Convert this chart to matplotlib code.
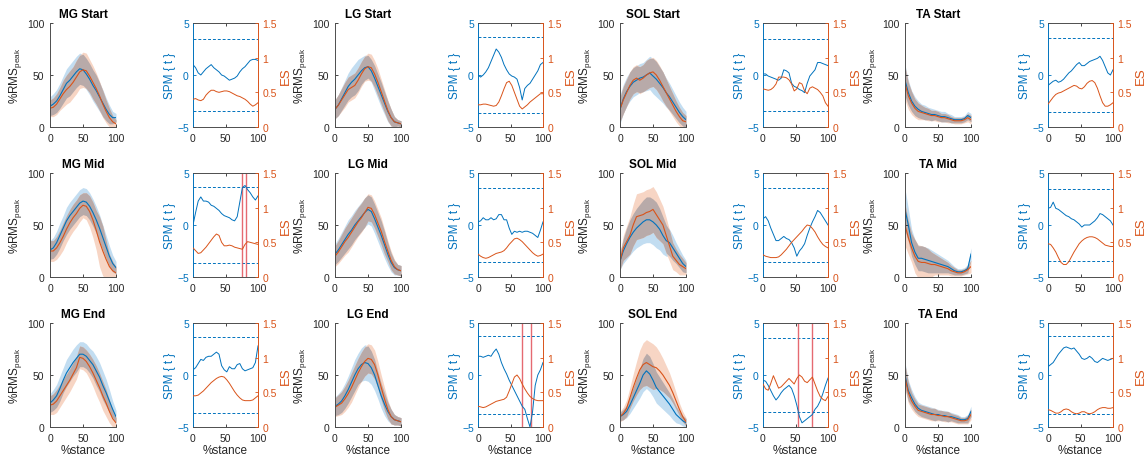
import numpy as np
import matplotlib
matplotlib.use("Agg")
import matplotlib.pyplot as plt

plt.rcParams['font.family'] = ['Liberation Sans', 'DejaVu Sans']
plt.rcParams['mathtext.fontset'] = 'custom'
plt.rcParams['mathtext.rm'] = 'Liberation Sans'
plt.rcParams['mathtext.it'] = 'Liberation Sans:italic'

# ---------------- data ----------------
STANCE = list(range(0, 101, 5))
SPM_STANCE = list(range(0, 101, 4))
MUSCLES = ["MG", "LG", "SOL", "TA"]
PHASES = ["Start", "Mid", "End"]

# EMG means / SDs (blue group A, orange group B), %RMS peak
MG_START_A = [20,22,25,30,36,42,45,49,53,56,55,51,46,40,35,29,23,17,12,9,9]
MG_START_B = [18,19,22,27,32,36,39,43,48,53,55,54,49,43,37,30,22,15,9,5,3]
MG_START_A_SD = [9,10,11,12,13,14,15,15,15,15,15,15,15,15,15,14,13,11,9,6,4]
MG_START_B_SD = [8,9,10,11,13,14,15,15,16,16,17,17,16,16,15,14,13,11,9,6,4]

LG_START_A = [17,21,27,33,39,43,46,50,54,57,58,54,47,39,31,23,15,9,5,4,3]
LG_START_B = [17,21,26,31,36,38,40,45,51,56,58,57,51,43,34,25,16,9,5,4,3]
LG_START_A_SD = [9,10,11,12,13,14,15,15,13,12,11,11,12,12,12,11,10,8,5,3,3]
LG_START_B_SD = [9,10,11,12,12,12,12,12,12,12,13,13,13,13,12,11,10,8,5,3,3]

SOL_START_A = [17,27,34,39,43,45,47,48,50,52,49,46,42,38,33,29,24,19,14,10,7]
SOL_START_B = [17,26,33,40,45,47,45,47,50,52,53,50,45,39,33,27,21,15,10,6,5]
SOL_START_A_SD = [14,14,14,14,14,14,14,14,15,16,17,17,16,15,14,13,12,11,10,9,8]
SOL_START_B_SD = [12,13,13,13,13,13,13,13,14,14,14,14,14,14,13,12,11,10,9,8,6]

TA_START_A = [45,33,25,20,17,15,14,13,12,12,11,10,10,9,8,7,7,7,8,11,9]
TA_START_B = [42,30,23,18,15,14,13,12,11,11,10,9,9,8,7,6,6,6,7,9,7]
TA_START_A_SD = [15,12,10,9,8,7,7,6,6,5,5,5,5,4,4,3,3,3,3,4,4]
TA_START_B_SD = [16,13,11,9,8,7,6,6,5,5,5,4,4,4,3,3,3,3,3,4,4]

MG_MID_A = [26,28,33,40,47,54,59,63,67,71,73,72,68,62,55,47,38,29,20,13,9]
MG_MID_B = [25,25,28,33,39,46,52,57,61,66,69,68,63,55,45,34,25,17,10,6,4]
MG_MID_A_SD = [9,10,11,12,12,13,13,13,13,13,13,13,13,13,13,13,12,11,10,8,6]
MG_MID_B_SD = [10,10,11,12,13,13,13,13,13,13,12,13,15,17,19,24,24,18,12,9,6]

LG_MID_A = [22,26,31,36,41,45,50,54,58,62,65,63,56,48,40,31,22,14,9,7,6]
LG_MID_B = [20,24,29,34,38,43,48,53,57,62,67,66,60,52,44,34,25,16,10,7,6]
LG_MID_A_SD = [10,11,12,13,14,14,14,14,14,14,14,14,14,14,14,13,11,9,7,5,5]
LG_MID_B_SD = [10,11,12,13,14,14,14,14,14,14,13,13,13,13,13,12,10,9,7,5,5]

SOL_MID_A = [15,25,32,38,43,47,50,53,55,55,53,50,46,40,35,33,28,23,18,13,10]
SOL_MID_B = [15,28,34,40,50,58,59,60,62,63,65,60,55,50,40,30,20,16,12,10,8]
SOL_MID_A_SD = [8,12,15,17,18,19,20,21,22,22,22,22,20,18,15,13,12,10,9,8,6]
SOL_MID_B_SD = [8,12,15,18,20,22,22,22,22,22,22,22,20,18,17,15,13,11,10,8,6]

TA_MID_A = [65,50,33,24,18,18,17,16,15,14,13,12,11,10,8,6,5,5,6,8,22]
TA_MID_B = [50,38,28,20,15,14,14,13,12,12,11,10,9,8,6,5,4,4,5,7,10]
TA_MID_A_SD = [20,16,13,12,12,12,12,12,11,10,9,8,7,6,5,4,3,3,3,4,6]
TA_MID_B_SD = [20,16,14,16,16,16,15,14,12,10,9,8,7,6,5,4,3,3,3,4,6]

MG_END_A = [23,26,30,37,45,52,57,62,66,70,70,68,64,60,54,48,40,33,25,17,10]
MG_END_B = [21,22,25,30,35,40,45,51,57,67,66,63,58,52,45,38,30,23,15,8,4]
MG_END_A_SD = [9,10,11,12,12,13,13,13,13,12,12,12,12,13,14,14,14,13,11,8,6]
MG_END_B_SD = [9,10,11,11,11,11,11,11,11,11,11,11,12,13,14,14,14,13,11,8,5]

LG_END_A = [20,22,25,30,36,43,50,56,60,62,61,57,50,40,30,22,15,10,7,6,5]
LG_END_B = [19,21,23,27,32,38,45,52,58,63,66,65,60,50,38,27,17,10,7,6,5]
LG_END_A_SD = [9,10,11,12,13,14,15,15,16,17,17,16,15,13,12,11,9,7,5,4,4]
LG_END_B_SD = [9,10,11,12,13,14,14,14,14,14,14,14,14,13,12,11,9,7,5,4,4]

SOL_END_A = [10,12,15,21,28,35,42,50,54,51,45,38,34,30,26,22,17,12,9,6,4]
SOL_END_B = [10,13,18,28,38,47,55,60,62,60,58,57,54,50,45,40,33,25,17,10,5]
SOL_END_A_SD = [4,5,6,8,10,12,14,16,17,17,16,15,14,13,12,11,10,8,6,5,4]
SOL_END_B_SD = [5,6,8,10,13,16,19,21,22,22,22,20,18,16,14,12,10,8,6,5,4]

TA_END_A = [50,35,28,22,18,16,15,14,13,12,12,11,11,10,10,9,8,7,7,8,15]
TA_END_B = [48,33,25,20,16,15,14,13,12,12,11,11,10,10,9,8,7,6,6,7,12]
TA_END_A_SD = [12,10,8,7,6,6,6,6,6,6,5,5,5,5,4,4,4,3,3,4,5]
TA_END_B_SD = [12,10,8,7,6,6,6,6,6,6,5,5,5,5,4,4,4,3,3,4,5]

# SPM{t} and effect size (ES) curves
MG_START_T = [1.0,0.7,0.2,0.0,0.3,0.6,0.8,1.0,0.7,0.5,0.3,0.0,-0.1,-0.3,-0.5,-0.4,-0.3,-0.1,0.3,0.6,0.8,1.1,1.4,1.5,1.5,1.4]
MG_START_ES = [0.40,0.41,0.39,0.38,0.40,0.46,0.50,0.53,0.53,0.51,0.50,0.51,0.52,0.52,0.51,0.49,0.47,0.45,0.44,0.42,0.40,0.37,0.33,0.30,0.32,0.35]
LG_START_T = [0.0,-0.2,0.0,0.3,0.7,1.3,1.9,2.5,2.2,1.7,1.0,0.5,0.1,-0.1,-0.2,-0.4,-1.2,-2.4,-1.3,-1.0,-0.8,-0.4,0.0,0.4,1.0,1.2]
LG_START_ES = [0.32,0.32,0.33,0.33,0.32,0.31,0.30,0.31,0.36,0.45,0.55,0.64,0.66,0.60,0.50,0.40,0.30,0.26,0.29,0.32,0.36,0.39,0.42,0.45,0.48,0.48]
SOL_START_T = [0.1,0.1,-0.1,-0.2,-0.3,-0.4,-0.5,-0.3,0.5,0.4,0.2,-0.8,-1.1,-1.2,-1.4,-1.5,-1.7,-0.8,-0.1,0.2,0.5,1.2,1.2,1.1,1.0,0.9]
SOL_START_ES = [0.55,0.54,0.53,0.54,0.57,0.62,0.72,0.72,0.72,0.71,0.68,0.62,0.52,0.55,0.64,0.62,0.52,0.48,0.56,0.58,0.56,0.54,0.50,0.45,0.35,0.30]
TA_START_T = [-1.0,-0.8,-0.6,-0.5,-0.7,-0.6,-0.4,-0.1,0.2,0.4,0.7,1.0,1.2,0.9,0.9,1.1,1.3,1.4,1.5,1.6,1.8,1.4,0.8,0.2,0.0,0.5]
TA_START_ES = [0.33,0.38,0.43,0.47,0.49,0.50,0.52,0.54,0.56,0.58,0.60,0.59,0.56,0.55,0.58,0.63,0.66,0.67,0.64,0.56,0.45,0.35,0.30,0.30,0.32,0.35]

MG_MID_T = [0.0,1.2,2.3,2.7,2.3,2.3,2.2,1.9,1.8,1.6,1.4,1.1,0.9,0.8,0.7,0.5,0.4,0.8,2.2,3.6,3.8,3.4,3.1,2.7,2.4,2.8]
MG_MID_ES = [0.42,0.38,0.34,0.35,0.39,0.43,0.48,0.53,0.58,0.62,0.60,0.50,0.45,0.45,0.46,0.45,0.43,0.42,0.41,0.40,0.47,0.51,0.50,0.49,0.48,0.47]
LG_MID_T = [0.3,0.4,0.7,0.5,0.5,0.7,0.5,0.6,1.0,1.0,0.5,0.5,-0.3,-0.9,-0.6,-0.7,-0.6,-0.7,-0.6,-0.6,-0.7,-0.8,-1.0,-1.2,-0.5,0.3]
LG_MID_ES = [0.33,0.30,0.28,0.27,0.28,0.30,0.32,0.34,0.35,0.36,0.38,0.42,0.47,0.51,0.55,0.56,0.54,0.51,0.47,0.43,0.39,0.35,0.32,0.30,0.31,0.33]
SOL_MID_T = [0.6,0.8,0.4,-0.3,-0.9,-1.5,-1.5,-1.3,-1.1,-1.3,-1.4,-1.7,-2.2,-3.0,-2.5,-2.2,-1.8,-1.0,-0.3,0.3,0.8,1.4,1.2,0.8,0.4,0.0]
SOL_MID_ES = [0.32,0.30,0.29,0.28,0.28,0.28,0.29,0.32,0.36,0.40,0.45,0.50,0.54,0.58,0.62,0.66,0.71,0.75,0.74,0.70,0.65,0.58,0.52,0.47,0.44,0.42]
TA_MID_T = [1.6,1.7,2.2,1.6,1.5,1.3,1.1,0.9,0.8,0.6,0.5,0.3,0.1,-0.2,0.0,0.0,0.0,0.2,0.4,0.7,1.1,1.0,0.8,0.6,0.4,0.0]
TA_MID_ES = [0.48,0.47,0.42,0.36,0.28,0.21,0.18,0.18,0.22,0.29,0.36,0.42,0.48,0.52,0.55,0.57,0.58,0.58,0.57,0.55,0.52,0.49,0.46,0.45,0.44,0.44]

MG_END_T = [0.5,0.7,1.1,1.5,1.4,1.7,1.8,1.8,2.0,2.2,2.0,0.9,0.5,0.3,0.8,0.6,0.6,1.0,1.1,0.6,0.4,0.5,0.6,0.7,1.2,2.8]
MG_END_ES = [0.45,0.45,0.46,0.49,0.52,0.56,0.60,0.64,0.67,0.70,0.72,0.73,0.72,0.68,0.63,0.57,0.51,0.46,0.42,0.39,0.38,0.38,0.38,0.39,0.42,0.45]
LG_END_T = [1.8,1.8,1.7,1.8,1.9,1.8,2.2,2.5,2.0,1.2,0.6,0.1,-0.5,-1.0,-1.5,-2.0,-2.5,-3.0,-3.3,-4.2,-5.0,-3.5,-1.0,0.0,0.5,1.2]
LG_END_ES = [0.30,0.29,0.28,0.29,0.31,0.33,0.35,0.37,0.38,0.39,0.40,0.43,0.52,0.62,0.72,0.75,0.70,0.62,0.55,0.49,0.44,0.41,0.39,0.38,0.38,0.38]
SOL_END_T = [-0.5,-0.6,-1.0,-1.5,-2.0,-2.4,-2.1,-1.7,-1.4,-1.2,-1.0,-1.3,-2.0,-2.9,-4.0,-4.6,-4.4,-4.2,-4.0,-3.8,-3.3,-3.0,-2.5,-1.8,-1.0,-0.3]
SOL_END_ES = [0.62,0.55,0.53,0.63,0.74,0.65,0.56,0.58,0.62,0.66,0.70,0.66,0.62,0.70,0.75,0.72,0.66,0.64,0.68,0.72,0.62,0.52,0.44,0.40,0.38,0.44]
TA_END_T = [0.8,1.0,1.2,1.6,2.0,2.3,2.6,2.7,2.6,2.5,2.6,2.3,2.0,1.6,1.5,1.6,1.8,1.6,1.3,1.2,1.4,1.6,1.5,1.4,1.5,1.6]
TA_END_ES = [0.25,0.24,0.22,0.20,0.20,0.22,0.25,0.26,0.25,0.22,0.20,0.19,0.20,0.22,0.22,0.20,0.19,0.20,0.22,0.25,0.27,0.28,0.28,0.27,0.27,0.28]

# critical thresholds (rows: Start, Mid, End; cols: MG, LG, SOL, TA)
THRESH_START = [3.47, 3.70, 3.48, 3.58]
THRESH_MID = [3.70, 3.57, 3.57, 3.48]
THRESH_END = [3.65, 3.72, 3.56, 3.75]

# significant cluster boundaries (% stance)
CLUSTER_MG_MID = [75, 81]
CLUSTER_LG_END = [68, 82]
CLUSTER_SOL_END = [54, 76]

EMG = {
    ("MG", "Start"): (MG_START_A, MG_START_A_SD, MG_START_B, MG_START_B_SD),
    ("LG", "Start"): (LG_START_A, LG_START_A_SD, LG_START_B, LG_START_B_SD),
    ("SOL", "Start"): (SOL_START_A, SOL_START_A_SD, SOL_START_B, SOL_START_B_SD),
    ("TA", "Start"): (TA_START_A, TA_START_A_SD, TA_START_B, TA_START_B_SD),
    ("MG", "Mid"): (MG_MID_A, MG_MID_A_SD, MG_MID_B, MG_MID_B_SD),
    ("LG", "Mid"): (LG_MID_A, LG_MID_A_SD, LG_MID_B, LG_MID_B_SD),
    ("SOL", "Mid"): (SOL_MID_A, SOL_MID_A_SD, SOL_MID_B, SOL_MID_B_SD),
    ("TA", "Mid"): (TA_MID_A, TA_MID_A_SD, TA_MID_B, TA_MID_B_SD),
    ("MG", "End"): (MG_END_A, MG_END_A_SD, MG_END_B, MG_END_B_SD),
    ("LG", "End"): (LG_END_A, LG_END_A_SD, LG_END_B, LG_END_B_SD),
    ("SOL", "End"): (SOL_END_A, SOL_END_A_SD, SOL_END_B, SOL_END_B_SD),
    ("TA", "End"): (TA_END_A, TA_END_A_SD, TA_END_B, TA_END_B_SD),
}
SPM = {
    ("MG", "Start"): (MG_START_T, MG_START_ES, []),
    ("LG", "Start"): (LG_START_T, LG_START_ES, []),
    ("SOL", "Start"): (SOL_START_T, SOL_START_ES, []),
    ("TA", "Start"): (TA_START_T, TA_START_ES, []),
    ("MG", "Mid"): (MG_MID_T, MG_MID_ES, CLUSTER_MG_MID),
    ("LG", "Mid"): (LG_MID_T, LG_MID_ES, []),
    ("SOL", "Mid"): (SOL_MID_T, SOL_MID_ES, []),
    ("TA", "Mid"): (TA_MID_T, TA_MID_ES, []),
    ("MG", "End"): (MG_END_T, MG_END_ES, []),
    ("LG", "End"): (LG_END_T, LG_END_ES, CLUSTER_LG_END),
    ("SOL", "End"): (SOL_END_T, SOL_END_ES, CLUSTER_SOL_END),
    ("TA", "End"): (TA_END_T, TA_END_ES, []),
}
THRESH = {"Start": THRESH_START, "Mid": THRESH_MID, "End": THRESH_END}

# ---------------- style ----------------
BLUE = '#0072BD'
ORANGE = '#D95319'
BAND_BLUE = '#c2ddf1'
BAND_ORANGE = '#f7d5c4'
BAND_OVER = '#b8aaa9'
AXC = '#262626'
SPINE = '#4d4d4d'
CLUSTER_RED = '#e35a62'
TICK_FS = 7.5
LAB_FS = 8.5

W, H = 1145, 460
fig = plt.figure(figsize=(W / 100, H / 100), dpi=100)

EMG_LEFT = [50, 335, 620, 905]
SPM_LEFT = [193, 478, 763, 1048]
ROW_TOP = [24, 174, 324]
AW_E, AW_S, AH = 66, 65, 104


def rect(left, top, w):
    return [left / W, 1 - (top + AH) / H, w / W, AH / H]


x = np.array(STANCE, dtype=float)
xs = np.array(SPM_STANCE, dtype=float)

for r, phase in enumerate(PHASES):
    for c, mus in enumerate(MUSCLES):
        # ---- EMG panel ----
        a, asd, b, bsd = [np.array(v, dtype=float) for v in EMG[(mus, phase)]]
        ax = fig.add_axes(rect(EMG_LEFT[c], ROW_TOP[r], AW_E))
        alo, ahi = a - asd, a + asd
        blo, bhi = b - bsd, b + bsd
        ax.fill_between(x, alo, ahi, color=BAND_BLUE, lw=0)
        ax.fill_between(x, blo, bhi, color=BAND_ORANGE, lw=0)
        lo = np.maximum(alo, blo)
        hi = np.minimum(ahi, bhi)
        ax.fill_between(x, lo, hi, where=hi > lo, interpolate=True, color=BAND_OVER, lw=0)
        ax.plot(x, a, color=BLUE, lw=0.8)
        ax.plot(x, b, color=ORANGE, lw=0.8)
        ax.set_xlim(0, 100)
        ax.set_ylim(0, 100)
        ax.set_xticks([0, 50, 100])
        ax.set_yticks([0, 50, 100])
        for s in ['top', 'right']:
            ax.spines[s].set_visible(False)
        for s in ['left', 'bottom']:
            ax.spines[s].set_color(SPINE)
            ax.spines[s].set_linewidth(0.7)
        ax.tick_params(axis='x', direction='in', length=2, width=0.6, labelsize=TICK_FS,
                       colors=AXC, pad=4)
        ax.tick_params(axis='y', direction='in', length=2, width=0.6, labelsize=TICK_FS,
                       colors=AXC, pad=4)
        ax.set_ylabel('%RMS$_{\\mathrm{peak}}$', fontsize=LAB_FS, color=AXC, labelpad=2)
        ax.set_title(f'{mus} {phase}', fontsize=8.5, fontweight='bold', pad=4)
        if r == 2:
            ax.set_xlabel('%stance', fontsize=LAB_FS, color=AXC, labelpad=1)

        # ---- SPM panel ----
        t, es, clusters = SPM[(mus, phase)]
        th = THRESH[phase][c]
        axs = fig.add_axes(rect(SPM_LEFT[c], ROW_TOP[r], AW_S))
        axs.plot(xs, t, color=BLUE, lw=0.7, zorder=3)
        axs.axhline(th, color=BLUE, lw=0.7, ls=(0, (3, 2)))
        axs.axhline(-th, color=BLUE, lw=0.7, ls=(0, (3, 2)))
        for cx in clusters:
            axs.axvline(cx, color=CLUSTER_RED, lw=1.0, alpha=0.9)
        axs.set_xlim(0, 100)
        axs.set_ylim(-5, 5)
        axs.set_xticks([0, 50, 100])
        axs.set_yticks([-5, 0, 5])
        axs.tick_params(axis='x', direction='in', length=2, width=0.6, labelsize=TICK_FS,
                        colors=AXC, pad=4, top=True)
        axs.tick_params(axis='y', direction='in', length=2, width=0.6, labelsize=TICK_FS,
                        colors=BLUE, pad=3)
        axs.set_ylabel('SPM { t }', fontsize=LAB_FS, color=BLUE, labelpad=1)
        axs.spines['left'].set_color(BLUE)
        axs.spines['right'].set_visible(False)
        for s in ['top', 'bottom']:
            axs.spines[s].set_color(SPINE)
        for s in axs.spines.values():
            s.set_linewidth(0.7)
        if r == 2:
            axs.set_xlabel('%stance', fontsize=LAB_FS, color=AXC, labelpad=1)

        ax2 = axs.twinx()
        ax2.plot(xs, es, color=ORANGE, lw=0.7, zorder=3)
        ax2.set_ylim(0, 1.5)
        ax2.set_yticks([0, 0.5, 1, 1.5])
        ax2.set_yticklabels(['0', '0.5', '1', '1.5'])
        ax2.tick_params(axis='y', direction='in', length=2, width=0.6, labelsize=TICK_FS,
                        colors=ORANGE, pad=3)
        ax2.set_ylabel('ES', fontsize=9.5, color=ORANGE, labelpad=2)
        ax2.spines['right'].set_color(ORANGE)
        ax2.spines['left'].set_visible(False)
        for s in ['top', 'bottom']:
            ax2.spines[s].set_visible(False)
        ax2.spines['right'].set_linewidth(0.7)

fig.savefig('out.png', dpi=100)
